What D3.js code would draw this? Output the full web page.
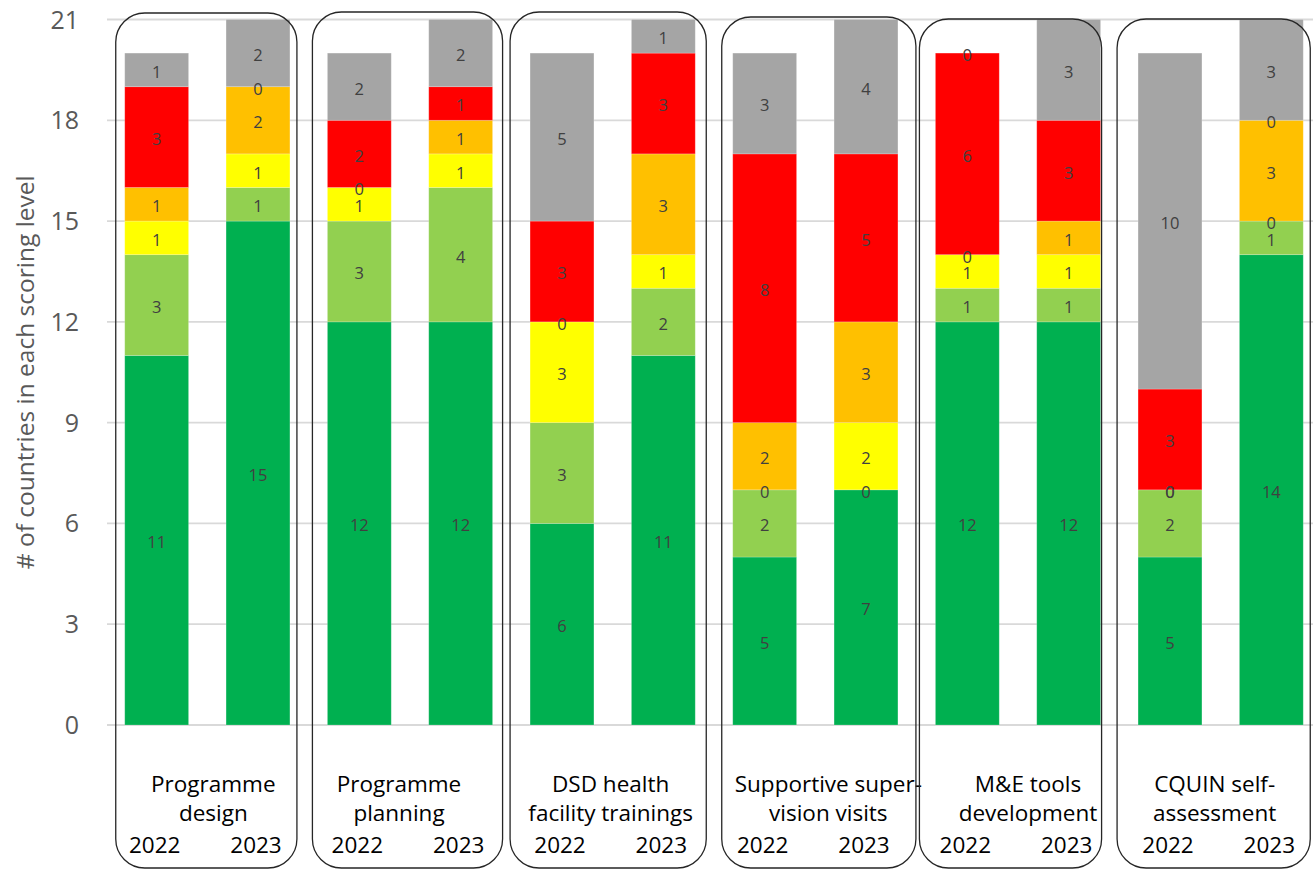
<!DOCTYPE html>
<html>
<head>
<meta charset="utf-8">
<script src="https://cdn.jsdelivr.net/npm/d3@7"></script>
<style>
  html, body { margin: 0; padding: 0; background: #fff; }
  svg { display: block; font-family: "Open Sans", "Noto Sans", sans-serif; }
</style>
</head>
<body>
<svg id="chart" width="1313" height="869"></svg>
<script>
// ---------------- data ----------------
const categories = [
  ["Programme", "design"],
  ["Programme", "planning"],
  ["DSD health", "facility trainings"],
  ["Supportive super-", "vision visits"],
  ["M&E tools", "development"],
  ["CQUIN self-", "assessment"]
];
const years = ["2022", "2023"];
const levels = ["Dark green", "Light green", "Yellow", "Amber", "Red", "Grey"];
// one value per bar, bars ordered category by category, 2022 then 2023
const darkGreen  = [11, 15, 12, 12, 6, 11, 5, 7, 12, 12, 5, 14];
const lightGreen = [3, 1, 3, 4, 3, 2, 2, 0, 1, 1, 2, 1];
const yellow     = [1, 1, 1, 1, 3, 1, 0, 2, 1, 1, 0, 0];
const amber      = [1, 2, 0, 1, 0, 3, 2, 3, 0, 1, 0, 3];
const red        = [3, 0, 2, 1, 3, 3, 8, 5, 6, 3, 3, 0];
const grey       = [1, 2, 2, 2, 5, 1, 3, 4, 0, 3, 10, 3];
const yTicks = [0, 3, 6, 9, 12, 15, 18, 21];
const yTitle = "# of countries in each scoring level";

// ---------------- layout / style ----------------
const colors = ["#00B050", "#92D050", "#FFFF00", "#FFC000", "#FF0000", "#A5A5A5"];
const boxPad = [[-9, 7, 13], [-15, 10, 12], [-20, 11, 12], [-11, 18, 17], [-16, 1, 19], [-21, 7, 19]];
const labelDx = [6, -11, -2, 13, 10, -6];

const svg = d3.select("#chart");
const series = [darkGreen, lightGreen, yellow, amber, red, grey];
const bars = [];
categories.forEach((c, ci) => years.forEach((yr, yi) => bars.push({ id: ci + "-" + yr, ci, yr, idx: ci * 2 + yi })));

const x = d3.scaleBand().domain(bars.map(b => b.id)).range([106, 1322]).paddingInner(0.37).paddingOuter(0.185);
const y = d3.scaleLinear().domain([0, 21]).range([725, 19.5]);

// gridlines
svg.append("g").selectAll("line").data(yTicks).join("line")
  .attr("x1", 107).attr("x2", 1313)
  .attr("y1", d => y(d)).attr("y2", d => y(d))
  .attr("stroke", "#D9D9D9").attr("stroke-width", 1.8);

// y tick labels
svg.append("g").selectAll("text").data(yTicks).join("text")
  .attr("x", 79).attr("y", d => y(d)).attr("dy", "0.36em")
  .attr("text-anchor", "end").attr("font-size", 25).attr("fill", "#595959")
  .text(d => d);

// y title
svg.append("text")
  .attr("transform", `translate(34, ${(y(0) + y(21)) / 2}) rotate(-90)`)
  .attr("text-anchor", "middle").attr("font-size", 24.5).attr("fill", "#595959")
  .text(yTitle);

// stacked data
const stackRows = bars.map(b => {
  const row = { id: b.id };
  levels.forEach((l, li) => row[l] = series[li][b.idx]);
  return row;
});
const stacked = d3.stack().keys(levels)(stackRows);

const gBars = svg.append("g");
stacked.forEach((layer, li) => {
  gBars.append("g").attr("fill", colors[li]).selectAll("rect").data(layer).join("rect")
    .attr("x", d => x(d.data.id))
    .attr("width", x.bandwidth())
    .attr("y", d => y(d[1]))
    .attr("height", d => y(d[0]) - y(d[1]))
    .attr("stroke", "#ffffff").attr("stroke-opacity", 0.25).attr("stroke-width", 0.8);
});

// value labels
const gLab = svg.append("g");
stacked.forEach((layer, li) => {
  gLab.append("g").selectAll("text").data(layer).join("text")
    .attr("x", d => x(d.data.id) + x.bandwidth() / 2)
    .attr("y", d => y((d[0] + d[1]) / 2) + 2)
    .attr("dy", "0.36em")
    .attr("text-anchor", "middle").attr("font-size", 16.5).attr("fill", "#404040")
    .text(d => d[1] - d[0]);
});

// year labels
svg.append("g").selectAll("text").data(bars).join("text")
  .attr("x", d => x(d.id) + x.bandwidth() / 2 - 2)
  .attr("y", 853)
  .attr("text-anchor", "middle").attr("font-size", 22.5).attr("fill", "#000")
  .text(d => d.yr);

// category labels
categories.forEach((lines, ci) => {
  const x0 = x(ci + "-" + years[0]) + x.bandwidth() / 2;
  const x1 = x(ci + "-" + years[1]) + x.bandwidth() / 2;
  const cx = (x0 + x1) / 2 + labelDx[ci];
  svg.append("g").selectAll("text").data(lines).join("text")
    .attr("x", cx).attr("y", (d, i) => 792 + i * 29)
    .attr("text-anchor", "middle").attr("font-size", 22.5).attr("fill", "#000")
    .text(d => d);
});

// rounded group boxes
categories.forEach((lines, ci) => {
  const left = x(ci + "-" + years[0]) + boxPad[ci][0];
  const right = x(ci + "-" + years[1]) + x.bandwidth() + boxPad[ci][1];
  const top = boxPad[ci][2];
  svg.append("rect")
    .attr("x", left).attr("y", top)
    .attr("width", right - left).attr("height", 868 - top)
    .attr("rx", 29).attr("ry", 29)
    .attr("fill", "none").attr("stroke", "#262626").attr("stroke-width", 1.3);
});
</script>
</body>
</html>
